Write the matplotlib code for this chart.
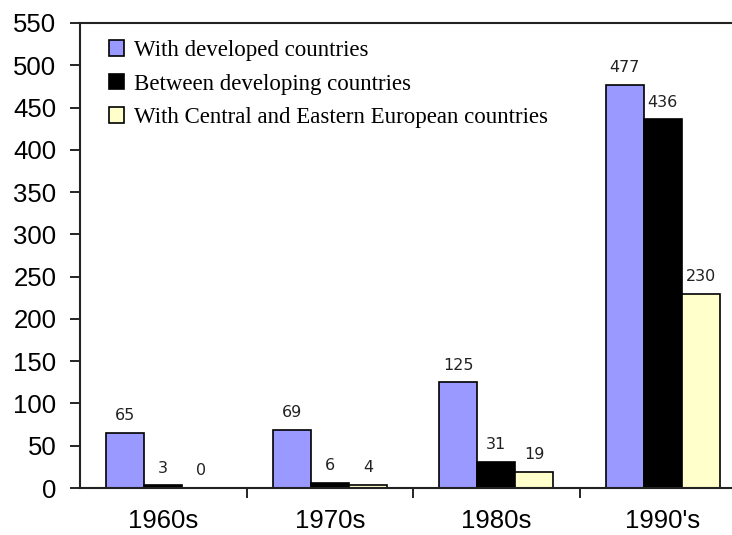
import numpy as np
import matplotlib.pyplot as plt

# data
decades = ['1960s', '1970s', '1980s', "1990's"]
developed = [65, 69, 125, 477]
developing = [3, 6, 31, 436]
cee = [0, 4, 19, 230]
series_names = ['With developed countries',
                'Between developing countries',
                'With Central and Eastern European countries']
colours = ['#9999FF', '#000000', '#FFFFCC']

fig = plt.figure(figsize=(7.32, 5.35), dpi=100)
ax = fig.add_axes([80 / 732, 1 - 488 / 535, 666 / 732, 465 / 535])

x = np.arange(len(decades))
width = 0.229
for i, (vals, name, col) in enumerate(zip([developed, developing, cee],
                                          series_names, colours)):
    pos = x + (i - 1) * width
    ax.bar(pos, vals, width, color=col, edgecolor='black',
           linewidth=1.2, label=name)
    for xp, v in zip(pos, vals):
        ax.annotate(str(v), xy=(xp, v), xytext=(0, 7), textcoords='offset points',
                    ha='center', va='bottom', fontsize=11.5,
                    family='DejaVu Sans', color='#222222')

ax.set_xlim(-0.5, 3.5)
ax.set_ylim(0, 550)
ax.set_yticks(range(0, 551, 50))
ax.set_xticks(x)
ax.set_xticklabels(decades)
ax.set_xticks([0.5, 1.5, 2.5], minor=True)
ax.tick_params(axis='x', which='major', length=0, pad=15, labelsize=18.5)
ax.tick_params(axis='x', which='minor', length=7, width=1.2, direction='out')
ax.tick_params(axis='y', length=7, width=1.2, direction='out', pad=10,
               labelsize=18.5)
for lab in ax.get_xticklabels() + ax.get_yticklabels():
    lab.set_family('Liberation Sans')

for side in ['left', 'bottom', 'top', 'right']:
    ax.spines[side].set_linewidth(1.5)
    ax.spines[side].set_color('#222222')

ax.legend(loc='upper left', bbox_to_anchor=(0.012, 1.008), frameon=False,
          prop={'family': 'Liberation Serif', 'size': 16.5},
          handlelength=0.65, handleheight=0.65, handletextpad=0.45,
          labelspacing=0.55)

fig.savefig('out.png', dpi=100)
